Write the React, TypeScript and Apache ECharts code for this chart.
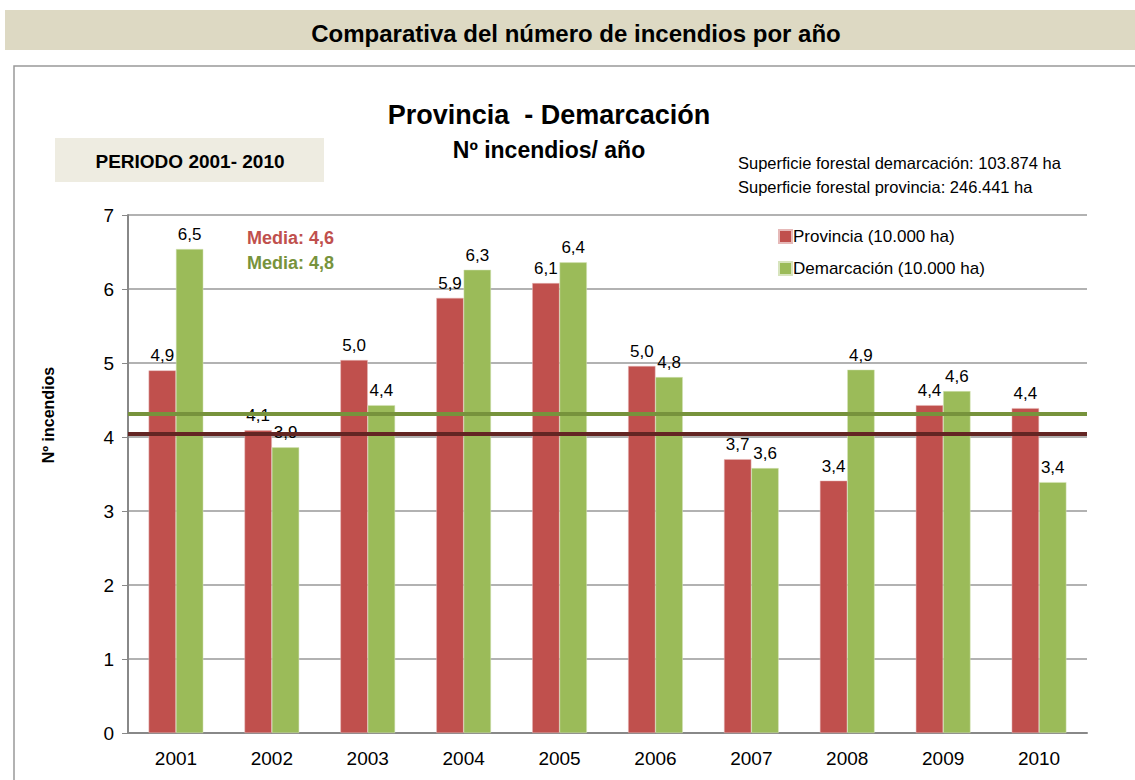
import React, { useEffect, useRef } from "react";
import * as echarts from "echarts";

const years = ["2001", "2002", "2003", "2004", "2005", "2006", "2007", "2008", "2009", "2010"];
const provincia = [4.9, 4.09, 5.04, 5.88, 6.08, 4.96, 3.7, 3.41, 4.43, 4.39];
const demarcacion = [6.54, 3.86, 4.43, 6.26, 6.36, 4.81, 3.58, 4.91, 4.62, 3.39];
const meanLinePositions = [4.04, 4.31]; // provincia, demarcación (as drawn)
const meanLabels = ["Media: 4,6", "Media: 4,8"];
const yTicks = [0, 1, 2, 3, 4, 5, 6, 7];

const FONT = "'Liberation Sans Narrow', 'Arial Narrow', 'Liberation Sans', sans-serif";
const RED = "#C0504D";
const GREEN = "#9BBB59";

export default function App() {
  const ref = useRef<HTMLDivElement>(null);
  useEffect(() => {
    document.body.style.margin = "0";
    const chart = echarts.init(ref.current!, null, { renderer: "svg" });
    const fmt = (p: any) => p.value.toFixed(1).replace(".", ",");
    chart.setOption({
      animation: false,
      backgroundColor: "#fff",
      textStyle: { fontFamily: FONT },
      graphic: [
        { type: "rect", shape: { x: 5, y: 10, width: 1135, height: 40 }, style: { fill: "#DDD9C3" } },
        {
          type: "text", x: 576, y: 33,
          style: { text: "Comparativa del número de incendios por año", font: `bold 24px ${FONT}`, fill: "#000", align: "center", verticalAlign: "middle" },
        },
        { type: "rect", shape: { x: 14, y: 66, width: 1140, height: 730 }, style: { fill: "none", stroke: "#999", lineWidth: 1.5 } },
        { type: "rect", shape: { x: 55, y: 138, width: 269, height: 44 }, style: { fill: "#EEECE1" } },
        {
          type: "text", x: 190, y: 161,
          style: { text: "PERIODO 2001- 2010", font: `bold 19px ${FONT}`, fill: "#000", align: "center", verticalAlign: "middle" },
        },
        {
          type: "text", x: 549, y: 115,
          style: { text: "Provincia  - Demarcación", font: `bold 27px ${FONT}`, fill: "#000", align: "center", verticalAlign: "middle" },
        },
        {
          type: "text", x: 549, y: 150,
          style: { text: "Nº incendios/ año", font: `bold 23px ${FONT}`, fill: "#000", align: "center", verticalAlign: "middle" },
        },
        {
          type: "text", x: 738, y: 163,
          style: { text: "Superficie forestal demarcación: 103.874 ha", font: `16.5px ${FONT}`, fill: "#000", align: "left", verticalAlign: "middle" },
        },
        {
          type: "text", x: 738, y: 187,
          style: { text: "Superficie forestal provincia: 246.441 ha", font: `16.5px ${FONT}`, fill: "#000", align: "left", verticalAlign: "middle" },
        },
        {
          type: "text", x: 247, y: 238,
          style: { text: meanLabels[0], font: `bold 18px ${FONT}`, fill: RED, align: "left", verticalAlign: "middle" },
        },
        {
          type: "text", x: 247, y: 263,
          style: { text: meanLabels[1], font: `bold 18px ${FONT}`, fill: "#77933C", align: "left", verticalAlign: "middle" },
        },
        {
          type: "text", x: 48, y: 415, rotation: Math.PI / 2,
          style: { text: "Nº incendios", font: `bold 16px ${FONT}`, fill: "#000", align: "center", verticalAlign: "middle" },
        },
      ],
      legend: {
        orient: "vertical",
        left: 773,
        top: 223,
        itemWidth: 13,
        itemHeight: 13,
        itemGap: 15,
        icon: "rect",
        textStyle: { fontFamily: FONT, fontSize: 17, color: "#000", padding: [0, 0, 0, -4] },
        data: ["Provincia (10.000 ha)", "Demarcación (10.000 ha)"],
      },
      grid: { left: 128, top: 215, right: 48, bottom: 47 },
      xAxis: {
        type: "category",
        data: years,
        axisLine: { lineStyle: { color: "#888", width: 2 } },
        axisTick: { show: false },
        axisLabel: { fontFamily: FONT, fontSize: 19, color: "#000", margin: 16 },
      },
      yAxis: {
        type: "value",
        min: yTicks[0],
        max: yTicks[yTicks.length - 1],
        interval: 1,
        axisLine: { show: true, lineStyle: { color: "#888", width: 2 } },
        axisTick: { show: true, length: 6, lineStyle: { color: "#888" } },
        axisLabel: { fontFamily: FONT, fontSize: 19, color: "#000", margin: 14 },
        splitLine: { lineStyle: { color: "#999", width: 1.5 } },
      },
      series: [
        {
          name: "Provincia (10.000 ha)",
          type: "bar",
          data: provincia,
          barGap: "0%",
          barCategoryGap: "43%",
          itemStyle: { color: RED, borderColor: "#E6B9B8", borderWidth: 0.5 },
          label: { show: true, position: "top", formatter: fmt, fontFamily: FONT, fontSize: 17, color: "#000", distance: 6 },
          markLine: {
            silent: true,
            symbol: "none",
            label: { show: false },
            lineStyle: { color: "#632523", width: 4, type: "solid" },
            data: [{ yAxis: meanLinePositions[0] }],
            z: 10,
          },
        },
        {
          name: "Demarcación (10.000 ha)",
          type: "bar",
          data: demarcacion,
          itemStyle: { color: GREEN, borderColor: "#D7E4BD", borderWidth: 0.5 },
          label: { show: true, position: "top", formatter: fmt, fontFamily: FONT, fontSize: 17, color: "#000", distance: 6 },
          markLine: {
            silent: true,
            symbol: "none",
            label: { show: false },
            lineStyle: { color: "#77933C", width: 4, type: "solid" },
            data: [{ yAxis: meanLinePositions[1] }],
            z: 10,
          },
        },
      ],
    });
    return () => chart.dispose();
  }, []);
  return <div ref={ref} style={{ width: 1135, height: 780 }} />;
}
